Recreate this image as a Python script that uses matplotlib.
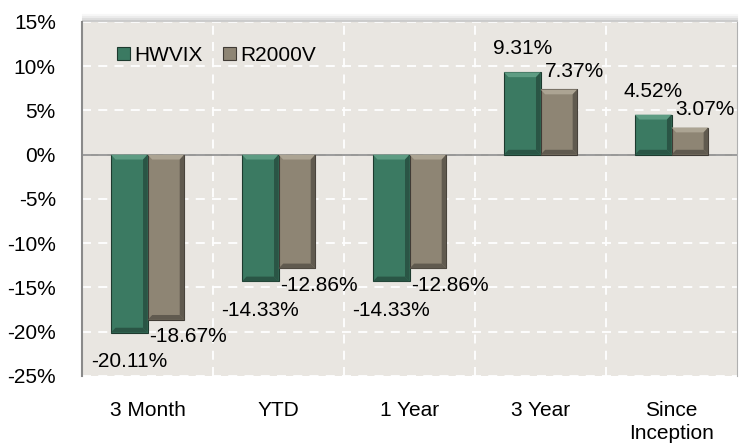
import numpy as np
import matplotlib.pyplot as plt
from matplotlib.patches import Polygon

plt.rcParams['font.family'] = ['Liberation Sans', 'DejaVu Sans']

categories = ["3 Month", "YTD", "1 Year", "3 Year", "Since\nInception"]
hwvix = [-20.11, -14.33, -14.33, 9.31, 4.52]
r2000v = [-18.67, -12.86, -12.86, 7.37, 3.07]
series_names = ["HWVIX", "R2000V"]
yticks = [15, 10, 5, 0, -5, -10, -15, -20, -25]

green = "#3b7a62"
taupe = "#8e8574"
bg = "#e9e6e1"
fs = 15

fig = plt.figure(figsize=(7.4, 4.48), dpi=100)
ax = fig.add_axes([0.111, 0.161, 0.885, 0.79])
ax.set_facecolor(bg)

x = np.arange(len(categories))
w = 0.28
b1 = ax.bar(x - w / 2, hwvix, w, color=green, edgecolor="#1d3a2e", linewidth=0.8, label=series_names[0], zorder=3)
b2 = ax.bar(x + w / 2, r2000v, w, color=taupe, edgecolor="#403b35", linewidth=0.8, label=series_names[1], zorder=3)

# bevel look: light top, dark right side and bottom
bx, by = 0.035, 0.55
for bars, light, dark in ((b1, "#5e9c83", "#2a5545"), (b2, "#aca493", "#605a4f")):
    for r in bars:
        x0, x1 = r.get_x(), r.get_x() + r.get_width()
        y0 = min(r.get_y(), r.get_y() + r.get_height())
        y1 = max(r.get_y(), r.get_y() + r.get_height())
        ax.add_patch(Polygon([(x0, y1), (x1, y1), (x1 - bx, y1 - by), (x0 + bx, y1 - by)],
                             closed=True, color=light, lw=0, zorder=4))
        ax.add_patch(Polygon([(x1, y1), (x1, y0), (x1 - bx, y0 + by), (x1 - bx, y1 - by)],
                             closed=True, color=dark, lw=0, zorder=4))
        ax.add_patch(Polygon([(x0, y0), (x1, y0), (x1 - bx, y0 + by), (x0 + bx, y0 + by)],
                             closed=True, color=dark, lw=0, zorder=4))

# data labels
for i, v in enumerate(hwvix):
    off = (0, 17) if v > 0 else (0, -21)
    ax.annotate(f"{v:.2f}%", (x[i] - w / 2, v), xytext=off, textcoords="offset points",
                ha="center", va="center", fontsize=fs, zorder=5)
for i, v in enumerate(r2000v):
    off = (11, 13) if v > 0 else (16, -12)
    ax.annotate(f"{v:.2f}%", (x[i] + w / 2, v), xytext=off, textcoords="offset points",
                ha="center", va="center", fontsize=fs, zorder=5)

ax.set_xlim(-0.5, len(categories) - 0.5)
ax.set_ylim(-25, 15)
ax.set_yticks(yticks)
ax.set_yticklabels([f"{t}%" for t in yticks], fontsize=fs)
ax.set_xticks(x)
ax.set_xticklabels(categories, fontsize=fs, linespacing=1.25, va="top")
ax.tick_params(length=0)
ax.tick_params(axis="y", pad=19)
ax.tick_params(axis="x", pad=18)

# grid lines between categories and at y ticks
for gx in np.arange(0.5, len(categories) - 0.5, 1):
    ax.axvline(gx, color="white", linestyle=(0, (5, 4)), linewidth=1.3, zorder=1)
for t in yticks:
    ax.axhline(t, color="white", linestyle=(0, (5, 4)), linewidth=1.3, zorder=1)
ax.axhline(0, color="#8a8a8a", linewidth=1.2, zorder=2)

for s in ("top", "bottom"):
    ax.spines[s].set_visible(False)
ax.spines["left"].set_color("#8a8a8a")
ax.spines["left"].set_linewidth(1.5)
ax.spines["right"].set_color("#b0b0b0")

# soft shadow above plot area
for k, a in enumerate([0.4, 0.25, 0.14, 0.06]):
    fig.add_artist(plt.Line2D([0.112, 0.996], [0.953 + k * 0.0045] * 2, transform=fig.transFigure,
                              color="gray", alpha=a, linewidth=1.5))

ax.legend(loc="upper left", bbox_to_anchor=(0.025, 0.985), ncol=2, frameon=False, fontsize=fs,
          handlelength=0.6, handleheight=0.6, handletextpad=0.2, columnspacing=1.0)

fig.savefig("out.png", dpi=100)
